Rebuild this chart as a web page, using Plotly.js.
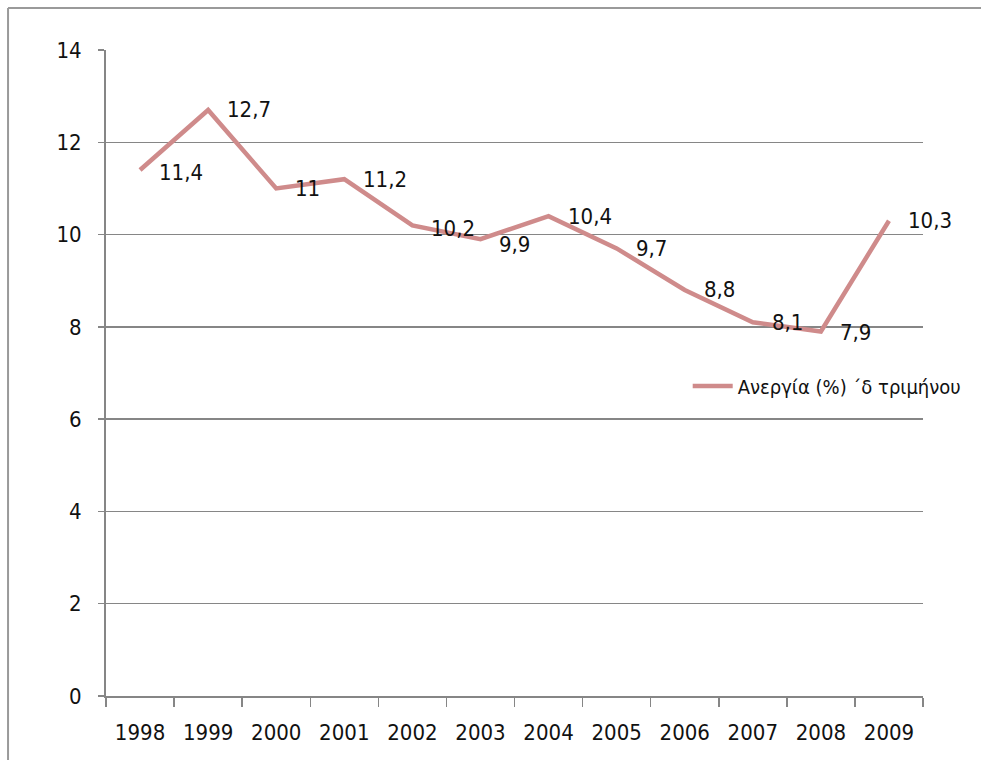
<!DOCTYPE html>
<html>
<head>
<meta charset="utf-8">
<script src="https://cdn.plot.ly/plotly-3.0.1.min.js"></script>
<style>
html,body{margin:0;padding:0;background:#fff;}
#chart{width:981px;height:760px;}
</style>
</head>
<body>
<div id="chart"></div>
<script>
// Data
const years = ['1998','1999','2000','2001','2002','2003','2004','2005','2006','2007','2008','2009'];
const unemployment = [11.4, 12.7, 11.0, 11.2, 10.2, 9.9, 10.4, 9.7, 8.8, 8.1, 7.9, 10.3];
const labels = ['11,4','12,7','11','11,2','10,2','9,9','10,4','9,7','8,8','8,1','7,9','10,3'];
const seriesName = 'Ανεργία (%) ΄δ τριμήνου';
const yTicks = [0, 2, 4, 6, 8, 10, 12, 14];

// Label vertical nudges (style only)
const labelYShift = [-3, 0, 0, 0, -3, -5, 0, 0, 0, 0, -1, 0];

const FONT = '"Liberation Sans Narrow", "DejaVu Sans Condensed", Arial, sans-serif';
const lineColor = '#cf8b8b';
const gridColor = '#868686';

const trace = {
  x: years,
  y: unemployment,
  type: 'scatter',
  mode: 'lines',
  name: seriesName,
  line: {color: lineColor, width: 4.5},
  hoverinfo: 'x+y'
};

// category axis: annotation x given by category index
const annotations = years.map((yr, i) => ({
  x: i, y: unemployment[i], xref: 'x', yref: 'y',
  text: labels[i], showarrow: false,
  xanchor: 'left', yanchor: 'middle',
  xshift: 17, yshift: labelYShift[i],
  font: {family: FONT, size: 22, color: '#111'}
}));

const layout = {
  width: 981, height: 760,
  margin: {l: 106, r: 58, t: 50, b: 64, autoexpand: false},
  paper_bgcolor: '#ffffff',
  plot_bgcolor: '#ffffff',
  font: {family: FONT, size: 22, color: '#111'},
  showlegend: true,
  legend: {
    x: 0.712, y: 0.48, xanchor: 'left', yanchor: 'middle',
    bgcolor: 'rgba(0,0,0,0)',
    font: {family: FONT, size: 20, color: '#111'},
    itemwidth: 40
  },
  xaxis: {
    type: 'category',
    range: [-0.5, 11.5],
    showgrid: false,
    showline: true, linecolor: gridColor, linewidth: 2,
    ticks: 'outside', tickson: 'boundaries', ticklen: 9, tickcolor: gridColor, tickwidth: 1.5,
    ticklabelstandoff: 16,
    tickfont: {family: FONT, size: 22, color: '#111'},
    zeroline: false, fixedrange: true
  },
  yaxis: {
    range: [0, 14],
    tickvals: yTicks,
    ticktext: yTicks.map(String),
    showgrid: true, gridcolor: gridColor, gridwidth: 1.5,
    showline: true, linecolor: gridColor, linewidth: 2,
    ticks: 'outside', ticklen: 6, tickcolor: gridColor, tickwidth: 1.5,
    ticklabelstandoff: 12,
    tickfont: {family: FONT, size: 22, color: '#111'},
    zeroline: false, fixedrange: true
  },
  annotations: annotations,
  shapes: [
    {type: 'line', xref: 'paper', yref: 'paper', x0: -0.1199, x1: -0.1199, y0: -0.2, y1: 1.065,
     line: {color: '#9a9a9a', width: 2}},
    {type: 'line', xref: 'paper', yref: 'paper', x0: -0.1199, x1: 1.2, y0: 1.065, y1: 1.065,
     line: {color: '#9a9a9a', width: 2}}
  ]
};

Plotly.newPlot('chart', [trace], layout, {displayModeBar: false, staticPlot: true});
</script>
</body>
</html>
